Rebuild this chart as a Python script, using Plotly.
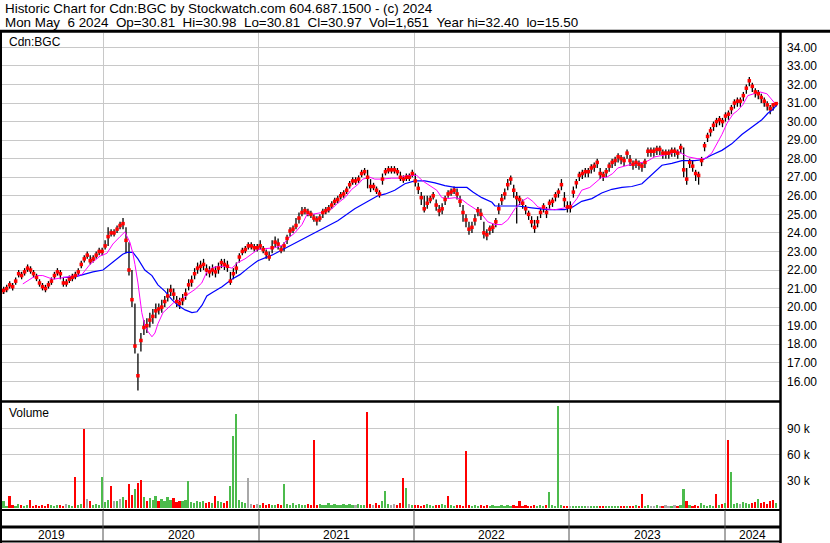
import plotly.graph_objects as go
import pandas as pd

# ---------------- data (weekly) ----------------
start_date = "2019-05-06"
n_weeks = 261

close = [
    20.8, 20.9, 21.0, 21.2, 21.1, 21.4, 21.8, 21.7, 21.9, 22.1,
    22.0, 21.8, 21.6, 21.3, 21.1, 21.0, 21.2, 21.4, 21.7, 21.9,
    21.8, 21.3, 21.3, 21.5, 21.6, 21.7, 21.9, 22.3, 22.6, 22.8,
    22.5, 22.6, 22.8, 23.0, 23.0, 23.3, 23.8, 24.0, 24.0, 24.2,
    24.4, 24.5, 23.6, 22.0, 20.4, 17.9, 16.3, 18.2, 18.9, 19.0,
    19.3, 19.5, 19.8, 19.9, 20.0, 20.3, 20.6, 20.9, 20.7, 20.3,
    20.2, 20.4, 20.7, 21.2, 21.4, 21.8, 22.1, 22.2, 22.3, 22.0,
    21.9, 22.0, 21.9, 22.1, 22.4, 22.3, 22.2, 21.4, 21.8, 22.1,
    22.7, 23.0, 23.1, 23.3, 23.3, 23.2, 23.2, 23.3, 23.1, 22.9,
    22.7, 23.2, 23.5, 23.4, 23.1, 23.3, 23.7, 24.1, 24.2, 24.4,
    24.8, 25.1, 25.2, 25.1, 25.0, 24.8, 24.7, 24.8, 25.1, 25.2,
    25.3, 25.5, 25.7, 25.8, 26.0, 26.1, 26.3, 26.6, 26.8, 26.8,
    26.9, 27.2, 27.3, 27.0, 26.5, 26.5, 26.3, 26.1, 26.9, 27.3,
    27.4, 27.4, 27.4, 27.3, 27.0, 26.9, 27.0, 27.0, 27.2, 26.8,
    26.4, 25.9, 25.3, 25.6, 25.8, 26.0, 25.5, 25.2, 25.3, 25.8,
    26.1, 26.2, 26.3, 26.1, 25.7, 25.1, 24.7, 24.2, 24.3, 24.7,
    25.2, 25.0, 24.0, 23.9, 24.2, 24.3, 24.6, 25.3, 25.8, 26.1,
    26.6, 26.9, 26.3, 25.9, 25.8, 25.6, 25.3, 25.0, 24.6, 24.3,
    24.6, 25.1, 25.4, 25.1, 25.6, 25.7, 26.0, 26.2, 26.6, 25.8,
    25.4, 25.4, 26.2, 26.7, 27.1, 27.2, 27.3, 27.3, 27.5, 27.6,
    27.8, 27.2, 27.1, 27.3, 27.6, 27.8, 27.9, 28.1, 28.0, 27.9,
    28.3, 27.9, 27.7, 27.8, 27.7, 27.6, 27.8, 28.4, 28.4, 28.4,
    28.5, 28.5, 28.3, 28.3, 28.3, 28.4, 28.4, 28.3, 28.6, 27.4,
    26.9, 27.8, 27.6, 27.2, 27.1, 27.9, 28.7, 29.2, 29.5, 29.8,
    30.0, 30.1, 30.0, 30.3, 30.4, 30.7, 31.0, 31.1, 31.1, 31.4,
    31.8, 32.2, 31.9, 31.6, 31.5, 31.3, 31.1, 30.9, 30.7, 30.9,
    30.97,
]

high = [
    21.0, 21.1, 21.2, 21.4, 21.3, 21.6, 22.0, 21.9, 22.1, 22.3,
    22.2, 22.0, 21.8, 21.5, 21.3, 21.2, 21.4, 21.6, 21.9, 22.1,
    22.0, 21.6, 21.5, 21.7, 21.8, 21.9, 22.1, 22.5, 22.8, 23.0,
    22.8, 22.8, 23.0, 23.2, 23.2, 23.6, 24.3, 24.2, 24.2, 24.4,
    24.6, 24.8, 24.3, 23.5, 22.0, 20.2, 17.5, 18.6, 19.3, 19.4,
    19.7, 19.9, 20.2, 20.2, 20.4, 20.6, 21.0, 21.2, 21.0, 20.6,
    20.5, 20.7, 21.0, 21.5, 21.7, 22.1, 22.4, 22.5, 22.6, 22.3,
    22.2, 22.3, 22.2, 22.4, 22.6, 22.6, 22.5, 21.9, 22.1, 22.4,
    22.9, 23.2, 23.3, 23.5, 23.5, 23.4, 23.4, 23.6, 23.3, 23.1,
    23.0, 23.6, 23.8, 23.7, 23.3, 23.5, 23.9, 24.3, 24.4, 24.8,
    25.1, 25.4, 25.4, 25.3, 25.2, 25.0, 24.9, 25.0, 25.3, 25.4,
    25.5, 25.7, 25.9, 26.0, 26.2, 26.3, 26.5, 26.8, 27.0, 27.0,
    27.1, 27.4, 27.5, 27.4, 26.9, 26.7, 26.5, 26.3, 27.2, 27.5,
    27.6, 27.6, 27.6, 27.5, 27.3, 27.1, 27.2, 27.2, 27.4, 27.2,
    26.7, 26.2, 26.0, 26.0, 26.0, 26.2, 25.8, 25.5, 25.6, 26.0,
    26.3, 26.4, 26.5, 26.4, 26.0, 25.5, 25.0, 24.6, 24.6, 25.0,
    25.4, 25.3, 24.6, 24.2, 24.4, 24.5, 24.8, 25.6, 26.1, 26.4,
    26.9, 27.1, 26.6, 26.2, 26.0, 25.8, 25.5, 25.2, 24.9, 24.7,
    24.9, 25.3, 25.6, 25.4, 25.8, 25.9, 26.2, 26.4, 26.9, 26.2,
    25.7, 25.7, 26.5, 26.9, 27.3, 27.4, 27.5, 27.5, 27.7, 27.8,
    28.0, 27.5, 27.3, 27.5, 27.8, 28.0, 28.1, 28.3, 28.2, 28.1,
    28.5, 28.2, 27.9, 28.0, 27.9, 27.8, 28.0, 28.6, 28.6, 28.6,
    28.7, 28.7, 28.5, 28.5, 28.5, 28.6, 28.6, 28.5, 28.8, 28.6,
    27.5, 28.0, 27.9, 27.4, 27.3, 28.1, 28.9, 29.4, 29.7, 30.0,
    30.2, 30.3, 30.2, 30.5, 30.6, 30.9, 31.2, 31.3, 31.3, 31.6,
    32.0, 32.4, 32.1, 31.8, 31.7, 31.5, 31.3, 31.1, 30.9, 31.0,
    30.98,
]

low = [
    20.6, 20.7, 20.8, 21.0, 20.9, 21.2, 21.6, 21.5, 21.7, 21.9,
    21.8, 21.6, 21.4, 21.1, 20.9, 20.8, 21.0, 21.2, 21.5, 21.7,
    21.5, 21.1, 21.1, 21.3, 21.4, 21.5, 21.7, 22.1, 22.4, 22.6,
    22.3, 22.4, 22.6, 22.8, 22.8, 23.1, 23.3, 23.8, 23.8, 24.0,
    24.2, 24.2, 22.9, 21.7, 20.0, 17.5, 15.5, 17.6, 18.5, 18.6,
    18.9, 19.1, 19.4, 19.6, 19.7, 20.0, 20.3, 20.6, 20.4, 20.0,
    19.9, 20.1, 20.4, 20.9, 21.1, 21.5, 21.8, 21.9, 22.0, 21.7,
    21.6, 21.7, 21.6, 21.8, 22.1, 22.0, 21.9, 21.2, 21.5, 21.8,
    22.4, 22.8, 22.9, 23.1, 23.1, 23.0, 23.0, 23.1, 22.9, 22.6,
    22.5, 22.9, 23.2, 23.1, 22.9, 23.0, 23.4, 23.8, 24.0, 24.2,
    24.5, 24.9, 25.0, 24.9, 24.8, 24.6, 24.4, 24.6, 24.8, 25.0,
    25.1, 25.3, 25.5, 25.6, 25.8, 25.9, 26.1, 26.4, 26.6, 26.6,
    26.7, 27.0, 27.1, 26.4, 26.2, 26.3, 26.1, 25.9, 26.6, 27.1,
    27.2, 27.2, 27.2, 27.1, 26.8, 26.7, 26.8, 26.8, 27.0, 26.5,
    26.1, 25.5, 25.1, 25.3, 25.6, 25.8, 25.2, 24.9, 25.0, 25.5,
    25.9, 26.0, 26.1, 25.8, 25.4, 24.6, 24.3, 23.9, 24.0, 24.4,
    24.9, 24.7, 23.7, 23.6, 23.9, 24.0, 24.3, 25.0, 25.5, 25.8,
    26.3, 26.6, 25.9, 24.5, 25.5, 25.3, 25.0, 24.7, 24.3, 24.0,
    24.3, 24.8, 25.1, 24.8, 25.3, 25.4, 25.7, 25.9, 26.3, 25.4,
    25.1, 25.1, 25.9, 26.4, 26.8, 26.9, 27.0, 27.0, 27.2, 27.3,
    27.5, 26.9, 26.8, 27.0, 27.3, 27.5, 27.6, 27.8, 27.7, 27.6,
    28.0, 27.6, 27.4, 27.5, 27.4, 27.3, 27.5, 28.1, 28.1, 28.1,
    28.2, 28.2, 28.0, 28.0, 28.0, 28.1, 28.1, 28.0, 28.3, 27.0,
    26.6, 27.5, 27.3, 26.8, 26.6, 27.6, 28.4, 28.9, 29.2, 29.5,
    29.7, 29.8, 29.7, 30.0, 30.1, 30.4, 30.7, 30.8, 30.8, 31.1,
    31.5, 31.9, 31.6, 31.3, 31.2, 31.0, 30.8, 30.6, 30.4, 30.6,
    30.81,
]

# volume in thousands of shares
volume_k = [
    3, 7.7, 2, 13, 3, 2, 4, 3, 2, 3,
    9, 2, 3, 2, 3, 2, 4, 3, 2, 3,
    3, 2, 4, 3, 2, 35, 3, 4, 90, 10,
    8, 3, 4, 3, 35, 6, 9, 24, 8, 7,
    10, 12, 9, 27, 14, 21, 28, 31, 12, 8,
    11, 9, 13, 8, 10, 7, 12, 9, 11, 6,
    8, 7, 9, 30, 6, 5, 8, 6, 7, 5,
    6, 5, 13, 7, 6, 5, 8, 24, 82, 107,
    9, 6, 5, 34, 4, 3, 4, 3, 5, 3,
    4, 3, 3, 4, 3, 27, 4, 3, 5, 3,
    4, 3, 3, 4, 3, 77, 3, 4, 3, 3,
    5, 3, 4, 3, 3, 4, 3, 4, 3, 3,
    4, 3, 3, 109, 4, 3, 5, 3, 8, 19,
    4, 3, 4, 3, 5, 34, 22, 4, 3, 3,
    3, 2, 3, 4, 3, 2, 3, 3, 4, 3,
    13, 3, 2, 3, 3, 2, 64, 3, 2, 3,
    2, 3, 2, 3, 2, 3, 2, 2, 3, 2,
    3, 2, 3, 2, 8, 2, 3, 2, 2, 3,
    2, 3, 2, 3, 18, 3, 2, 116, 3, 2,
    2, 2, 1.5, 2, 1.5, 2, 1.5, 2, 2, 1.5,
    2, 1.5, 2, 1.5, 2, 2, 1.5, 2, 1.5, 2,
    2, 1.5, 2, 3, 2, 15, 2, 3, 2, 2,
    3, 2, 2, 3, 2, 2, 3, 2, 3, 21,
    8, 3, 2, 3, 2, 5, 3, 2, 3, 2,
    15, 3, 4, 5, 77, 41, 4, 5, 4, 6,
    5, 4, 5, 6, 10, 5, 6, 4, 7, 9,
    5,
]

# direction of the big volume days as seen in the picture (u=up, d=down, n=unchanged)
volume_dir_override = {
    1: "u", 3: "d", 10: "d", 16: "d", 25: "d", 28: "d", 29: "n", 30: "d",
    34: "u", 37: "d", 40: "n", 43: "d", 45: "u", 46: "d", 47: "d", 49: "d",
    53: "d", 63: "u", 72: "d", 77: "u", 78: "u", 79: "u", 83: "n", 95: "u",
    105: "d", 123: "d", 128: "u", 129: "u", 135: "d", 136: "u", 150: "d",
    156: "d", 174: "d", 184: "u", 187: "u", 215: "d", 229: "u", 230: "d",
    235: "u", 240: "d", 244: "d", 245: "u", 254: "u", 259: "d",
}

# short moving average (magenta): week index -> value
ma_fast_week = [
    7.4, 10.8, 12.5, 14.1, 17.5, 20.9, 24.2, 27.2, 29.9, 33.3,
    35.6, 37.6, 40.0, 41.6, 43.3, 44.3, 45.0, 46.0, 47.3, 48.3,
    49.3, 50.7, 51.7, 52.7, 54.4, 56.0, 58.4, 60.7, 62.8, 65.1,
    67.4, 69.1, 70.8, 72.8, 75.2, 77.5, 79.5, 81.9, 84.2, 86.2,
    88.6, 91.9, 94.6, 96.3, 98.6, 101.0, 102.7, 104.3, 107.7, 111.0,
    113.0, 115.4, 117.7, 119.7, 121.4, 123.8, 125.4, 127.8, 131.1, 133.2,
    136.5, 139.5, 141.5, 143.9, 146.2, 147.9, 149.9, 152.3, 154.6, 156.6,
    159.0, 161.3, 163.3, 165.7, 168.0, 170.0, 172.4, 174.7, 176.7, 178.4,
    180.1, 182.4, 185.8, 189.1, 191.5, 193.2, 194.8, 197.5, 199.9, 201.5,
    203.2, 205.2, 206.9, 210.3, 213.6, 216.6, 219.3, 222.7, 227.0, 230.4,
    233.7, 236.1, 238.4, 240.1, 241.8, 243.5, 245.5, 247.1, 248.8, 250.5,
    252.2, 254.5, 256.9, 258.9, 260.0,
]
ma_fast_value = [
    21.25, 21.6, 21.7, 21.7, 21.5, 21.6, 21.7, 21.75, 22.3, 22.75,
    22.9, 23.4, 23.8, 24.05, 23.5, 22.9, 22.3, 21.3, 19.7, 19.0,
    18.7, 18.4, 18.6, 19.1, 19.7, 19.95, 20.3, 20.4, 20.7, 20.95,
    21.3, 21.9, 22.1, 22.2, 22.2, 22.1, 22.4, 22.6, 22.85, 23.1,
    23.15, 23.2, 23.35, 23.7, 24.0, 24.45, 25.0, 25.0, 25.1, 25.3,
    25.6, 25.9, 26.35, 26.6, 26.9, 27.0, 26.9, 26.9, 26.95, 26.95,
    27.1, 27.1, 26.8, 26.55, 26.3, 25.9, 25.85, 25.9, 25.8, 25.55,
    25.3, 25.0, 24.6, 24.45, 24.45, 24.7, 25.3, 25.7, 25.9, 25.7,
    25.4, 25.3, 25.25, 25.35, 25.5, 25.85, 26.3, 26.45, 26.75, 27.0,
    27.0, 27.2, 27.5, 27.65, 27.75, 27.85, 28.1, 28.2, 28.4, 28.1,
    28.0, 28.0, 28.3, 28.8, 29.3, 29.9, 30.4, 30.6, 30.9, 31.4,
    31.5, 31.6, 31.5, 31.15, 30.9,
]

# long moving average (blue): week index -> value
ma_slow_week = [
    20.9, 24.2, 27.6, 30.9, 34.3, 36.6, 38.9, 40.9, 42.3, 44.3,
    46.0, 48.3, 50.7, 52.7, 55.1, 57.4, 59.4, 61.8, 64.1, 65.8,
    67.5, 69.1, 71.1, 74.2, 77.5, 80.2, 82.9, 86.2, 90.9, 96.3,
    102.0, 107.7, 113.0, 118.7, 123.1, 126.4, 129.0, 132.1, 135.5, 138.8,
    142.2, 145.6, 148.9, 152.3, 156.3, 158.3, 161.3, 164.7, 165.7, 169.0,
    173.4, 178.1, 183.4, 189.1, 191.8, 194.8, 198.2, 201.5, 204.9, 208.3,
    211.6, 215.0, 217.0, 218.6, 221.7, 225.0, 228.4, 232.7, 235.4, 238.4,
    241.8, 245.1, 248.5, 251.8, 255.2, 257.2, 258.9, 260.2,
]
ma_slow_value = [
    21.6, 21.6, 21.75, 21.9, 22.0, 22.3, 22.6, 22.85, 22.95, 22.95,
    22.6, 22.0, 21.7, 21.2, 20.85, 20.4, 20.1, 19.85, 19.7, 19.75,
    20.1, 20.6, 20.8, 21.1, 21.5, 21.75, 22.1, 22.5, 22.8, 23.25,
    23.7, 24.2, 24.65, 25.3, 25.7, 26.0, 26.1, 26.3, 26.65, 26.8,
    26.8, 26.7, 26.55, 26.45, 26.45, 26.2, 25.9, 25.65, 25.45, 25.45,
    25.45, 25.35, 25.25, 25.25, 25.4, 25.7, 25.85, 26.15, 26.35, 26.45,
    26.5, 26.65, 26.95, 27.2, 27.65, 27.75, 27.9, 27.9, 27.95, 28.2,
    28.45, 28.8, 29.3, 29.7, 30.1, 30.45, 30.65, 30.9,
]

price_ticks = list(range(16, 35))
volume_ticks = [30, 60, 90]
volume_tick_text = ["30 k", "60 k", "90 k"]
year_labels = ["2019", "2020", "2021", "2022", "2023", "2024"]

header_line1 = "Historic Chart for Cdn:BGC by Stockwatch.com 604.687.1500 - (c) 2024"
header_line2 = ("Mon May  6 2024  Op=30.81  Hi=30.98  Lo=30.81  Cl=30.97  "
                "Vol=1,651  Year hi=32.40  lo=15.50")

# ---------------- layout helpers ----------------
W, H = 830, 543
FONT = "Liberation Sans, Arial, sans-serif"
start = pd.Timestamp(start_date)
week_dates = pd.date_range(start, periods=n_weeks, freq="7D")


def wk_to_date(w):
    return start + pd.to_timedelta(w * 7, unit="D")


def px(x):
    return x / W


def py(y):
    return 1 - y / H


GRID = "#c8c8c8"
PLOT_RIGHT = 780

fig = go.Figure()

# high-low bars
bx, by = [], []
for d, h, l in zip(week_dates, high, low):
    bx += [d, d, None]
    by += [l, h, None]
fig.add_trace(go.Scatter(x=bx, y=by, mode="lines", line=dict(color="black", width=1.3),
                         xaxis="x", yaxis="y", hoverinfo="skip"))

# moving averages
fig.add_trace(go.Scatter(x=[wk_to_date(w) for w in ma_slow_week], y=ma_slow_value, mode="lines",
                         line=dict(color="#0000ff", width=1.2), xaxis="x", yaxis="y"))
fig.add_trace(go.Scatter(x=[wk_to_date(w) for w in ma_fast_week], y=ma_fast_value, mode="lines",
                         line=dict(color="#ff00ff", width=1.0), xaxis="x", yaxis="y"))

# close markers
fig.add_trace(go.Scatter(x=week_dates, y=close, mode="markers",
                         marker=dict(symbol="square", size=3.5, color="#ff0000", line=dict(width=0)),
                         xaxis="x", yaxis="y"))

# volume
COL = {"u": "#4cbb4c", "d": "#ff0000", "n": "#a8a8a8"}
vol_colors = []
for i in range(n_weeks):
    if i in volume_dir_override:
        k = volume_dir_override[i]
    elif i == 0 or close[i] == close[i - 1]:
        k = "n"
    elif close[i] > close[i - 1]:
        k = "u"
    else:
        k = "d"
    vol_colors.append(COL[k])
fig.add_trace(go.Bar(x=week_dates, y=volume_k, marker=dict(color=vol_colors, line=dict(width=0)),
                     width=4 * 86400000, xaxis="x2", yaxis="y2"))

# ---------------- axes ----------------
x_range = ["2019-05-04 06:00", "2024-05-08"]
xcommon = dict(type="date", range=x_range, domain=[0, px(PLOT_RIGHT)], showgrid=True,
               gridcolor=GRID, gridwidth=1, tick0="2019-01-01", dtick="M12",
               showticklabels=False, ticks="", zeroline=False, showline=False)

fig.update_layout(
    width=W, height=H, margin=dict(l=0, r=0, t=0, b=0),
    paper_bgcolor="white", plot_bgcolor="white", showlegend=False, bargap=0,
    xaxis=dict(anchor="y", **xcommon),
    xaxis2=dict(anchor="y2", matches="x", **xcommon),
    yaxis=dict(domain=[py(400), py(33)], range=[14.992, 34.776], side="right",
               tickvals=price_ticks, ticktext=["%.2f" % v for v in price_ticks],
               showgrid=True, gridcolor=GRID, zeroline=False, showline=False, ticks="",
               ticklabelstandoff=6, tickfont=dict(family=FONT, size=12, color="#000000")),
    yaxis2=dict(domain=[py(509), py(403)], range=[-1.7, 119.3], side="right",
                tickvals=volume_ticks, ticktext=volume_tick_text,
                showgrid=True, gridcolor=GRID, zeroline=False, showline=False, ticks="",
                ticklabelstandoff=6, tickfont=dict(family=FONT, size=12, color="#000000")),
    font=dict(family=FONT, size=12, color="#000000"),
)

# ---------------- frame lines ----------------
shapes = []


def hline(y, x0, x1, w, color="black"):
    shapes.append(dict(type="line", xref="paper", yref="paper", x0=px(x0), x1=px(x1),
                       y0=py(y), y1=py(y), line=dict(color=color, width=w)))


def vline(x, y0, y1, w, color="black"):
    shapes.append(dict(type="line", xref="paper", yref="paper", x0=px(x), x1=px(x),
                       y0=py(y0), y1=py(y1), line=dict(color=color, width=w)))


hline(31.3, 0, W, 3)
vline(1, 31, H, 2)
vline(PLOT_RIGHT + 0.5, 31, H, 2.5)
hline(401.5, 0, PLOT_RIGHT, 2.5)
hline(510, 0, PLOT_RIGHT, 2)
hline(527, 0, PLOT_RIGHT, 3)
hline(541.5, 0, PLOT_RIGHT, 2)

year_px = [0, 103, 259, 414, 569, 725, PLOT_RIGHT]
for xb in year_px[1:-1]:
    vline(xb, 510, 541, 1, "#505050")
fig.update_layout(shapes=shapes)

# ---------------- texts ----------------
ann = []
NB = "\u00a0"
ann.append(dict(text=header_line1.replace(" ", NB), x=px(3), y=py(8.5), xanchor="left", yanchor="middle",
                xref="paper", yref="paper", showarrow=False, font=dict(family=FONT, size=13.4)))
ann.append(dict(text=header_line2.replace(" ", NB), x=px(3), y=py(22.5), xanchor="left", yanchor="middle",
                xref="paper", yref="paper", showarrow=False, font=dict(family=FONT, size=13.4)))
ann.append(dict(text="Cdn:BGC", x=px(7), y=py(42), xanchor="left", yanchor="middle",
                xref="paper", yref="paper", showarrow=False, font=dict(family=FONT, size=12)))
ann.append(dict(text="Volume", x=px(7), y=py(413), xanchor="left", yanchor="middle",
                xref="paper", yref="paper", showarrow=False, font=dict(family=FONT, size=12)))
for i, lab in enumerate(year_labels):
    xc = (year_px[i] + year_px[i + 1]) / 2
    ann.append(dict(text=lab, x=px(xc), y=py(534.5), xanchor="center", yanchor="middle",
                    xref="paper", yref="paper", showarrow=False, font=dict(family=FONT, size=12)))
fig.update_layout(annotations=ann)

fig.write_html("out.html", config={"displayModeBar": False})

# remove the browser's default page margin so the figure sits at the top-left corner
with open("out.html", "r", encoding="utf-8") as f:
    page = f.read()
page = page.replace("<head>", "<head><style>html,body{margin:0;padding:0;overflow:hidden;}</style>", 1)
with open("out.html", "w", encoding="utf-8") as f:
    f.write(page)
